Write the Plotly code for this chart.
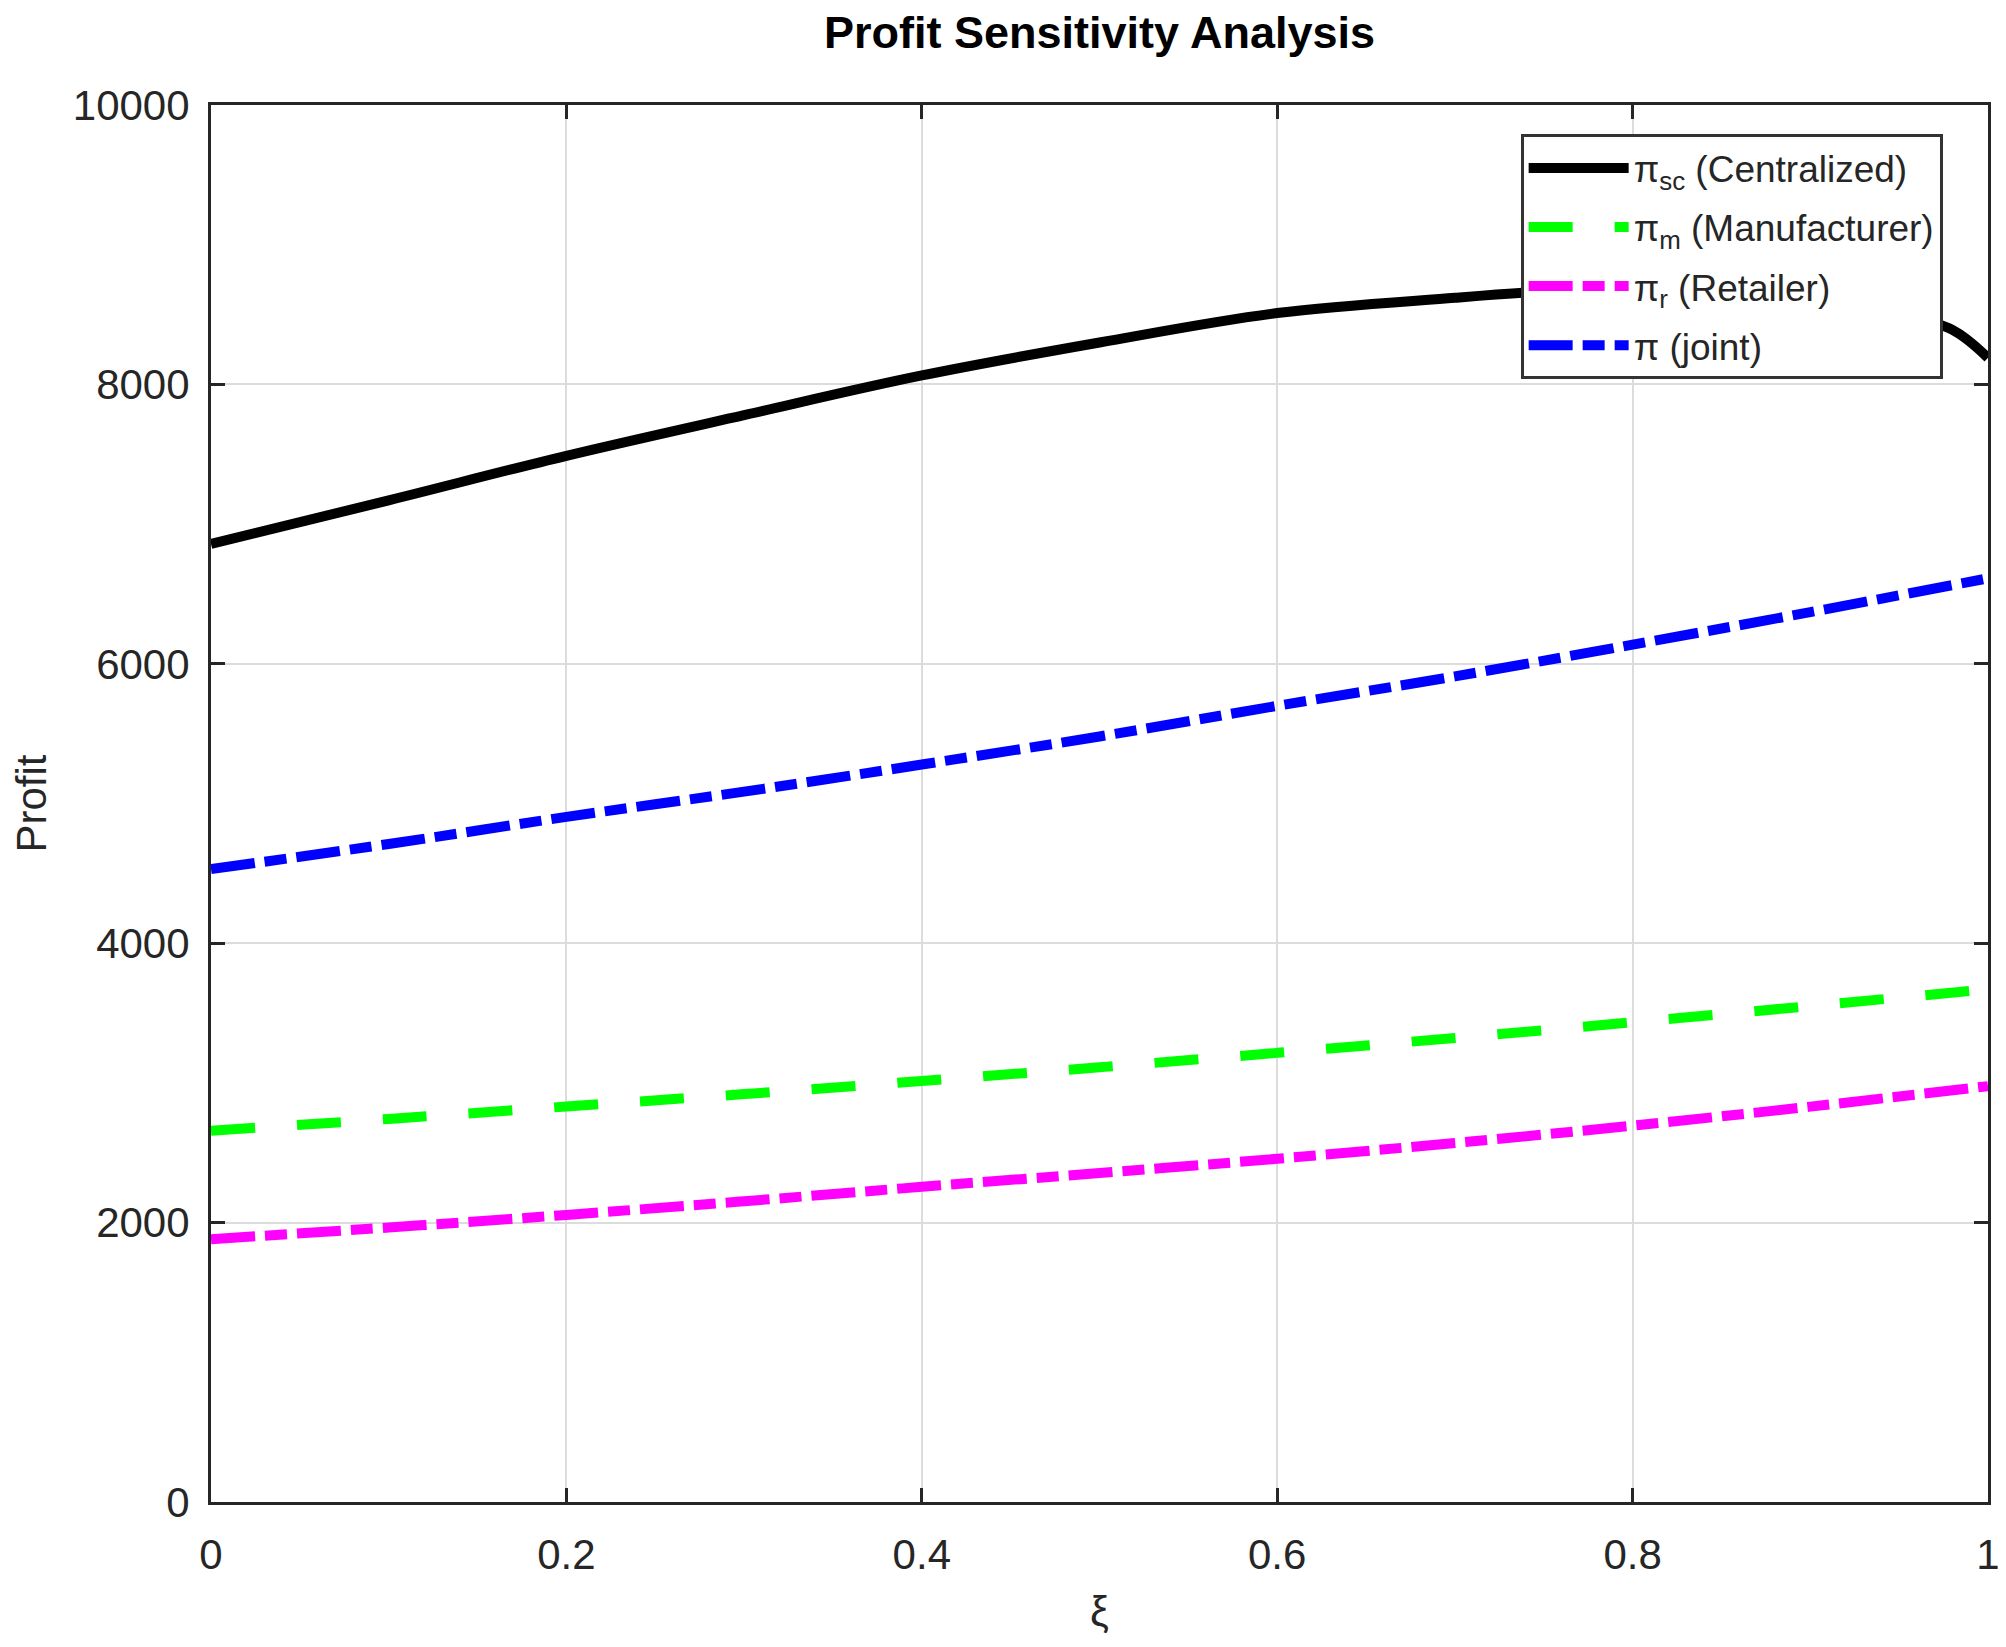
import plotly.graph_objects as go

# valores (xi de 0 a 1)
xi = [0.0, 0.1, 0.2, 0.3, 0.4, 0.5, 0.6, 0.7, 0.75, 0.8, 0.85, 0.9, 0.95, 0.98, 1.0]
pi_sc = [6858, 7170, 7489, 7780, 8064, 8300, 8511, 8620, 8665, 8690, 8680, 8620, 8500, 8390, 8190]

xi_dec = [0.0, 0.1, 0.2, 0.3, 0.4, 0.5, 0.6, 0.7, 0.8, 0.9, 1.0]
pi_m = [2658, 2742, 2831, 2920, 3014, 3112, 3215, 3322, 3434, 3550, 3671]
pi_r = [1881, 1965, 2055, 2153, 2256, 2355, 2457, 2570, 2694, 2830, 2977]
pi_joint = [4530, 4710, 4904, 5085, 5279, 5480, 5699, 5910, 6137, 6370, 6612]

x_ticks = [0, 0.2, 0.4, 0.6, 0.8, 1]
x_tick_labels = ["0", "0.2", "0.4", "0.6", "0.8", "1"]
y_ticks = [0, 2000, 4000, 6000, 8000, 10000]
y_tick_labels = ["0", "2000", "4000", "6000", "8000", "10000"]

fonte = "Liberation Sans, Arial, sans-serif"
cor_eixo = "#262626"

fig = go.Figure()

fig.add_trace(go.Scatter(
    x=xi, y=pi_sc, mode="lines",
    line=dict(color="black", width=10, shape="spline"),
    name="π<sub>sc</sub> (Centralized)", legendgroup="a"
))
fig.add_trace(go.Scatter(
    x=xi_dec, y=pi_m, mode="lines",
    line=dict(color="#00ff00", width=10, dash="44px,42px", shape="spline"),
    name="π<sub>m</sub> (Manufacturer)", legendgroup="b"
))
fig.add_trace(go.Scatter(
    x=xi_dec, y=pi_r, mode="lines",
    line=dict(color="#ff00ff", width=10, dash="44px,10px,22px,10px", shape="spline"),
    name="π<sub>r</sub> (Retailer)", legendgroup="c"
))
fig.add_trace(go.Scatter(
    x=xi_dec, y=pi_joint, mode="lines",
    line=dict(color="#0000ff", width=10, dash="44px,10px,22px,10px", shape="spline"),
    name="π (joint)", legendgroup="d"
))

eixo_comum = dict(
    showline=True, linecolor=cor_eixo, linewidth=3, mirror="ticks",
    ticks="inside", ticklen=14, tickwidth=3, tickcolor=cor_eixo,
    showgrid=True, gridcolor="#dcdcdc", gridwidth=2,
    zeroline=False, automargin=False,
    tickfont=dict(family=fonte, size=42, color=cor_eixo),
)

fig.update_xaxes(
    range=[0, 1], tickvals=x_ticks, ticktext=x_tick_labels,
    ticklabelstandoff=14,
    title=dict(text="ξ", font=dict(family=fonte, size=42, color=cor_eixo), standoff=20),
    **eixo_comum
)
fig.update_yaxes(
    range=[0, 10000], tickvals=y_ticks, ticktext=y_tick_labels,
    ticklabelstandoff=10,
    title=dict(text="Profit", font=dict(family=fonte, size=42, color=cor_eixo), standoff=30),
    **eixo_comum
)

fig.update_layout(
    width=2006, height=1647,
    margin=dict(l=203, r=26, t=97, b=153),
    paper_bgcolor="white", plot_bgcolor="white",
    title=dict(
        text="<b>Profit Sensitivity Analysis</b>",
        xref="paper", x=0.5, xanchor="center", y=1 - 24 / 1647, yanchor="middle",
        font=dict(family=fonte, size=45, color="black")
    ),
    legend=dict(
        x=0.737, y=0.979, xanchor="left", yanchor="top",
        bgcolor="white", bordercolor="#333333", borderwidth=3,
        font=dict(family=fonte, size=37, color=cor_eixo),
        itemwidth=100, tracegroupgap=8
    ),
    showlegend=True
)

fig.write_html("out.html")
